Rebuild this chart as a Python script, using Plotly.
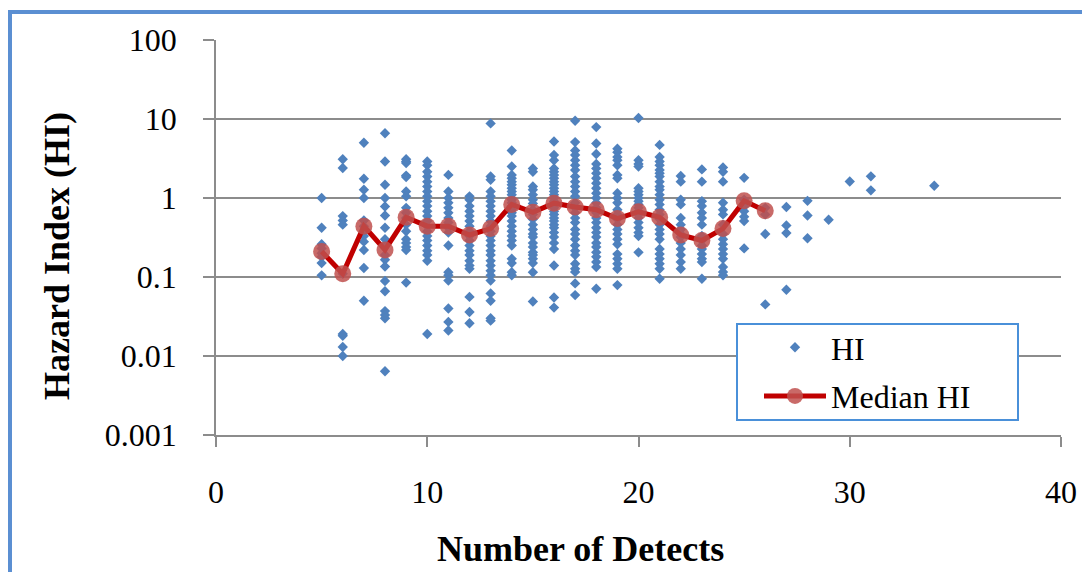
import plotly.graph_objects as go

# HI values per number of detects
hi_5 = [1.0, 0.42, 0.26, 0.23, 0.20, 0.18, 0.15, 0.105]
hi_6 = [3.1, 2.4, 0.59, 0.52, 0.46, 0.11, 0.019, 0.018, 0.013, 0.010]
hi_7 = [5.0, 1.75, 1.27, 1.0, 0.52, 0.44, 0.38, 0.33, 0.28, 0.22, 0.13, 0.05]
hi_8 = [6.6, 2.9, 1.47, 1.0, 0.78, 0.6, 0.42, 0.30, 0.25, 0.19, 0.165, 0.136, 0.089, 0.066, 0.037, 0.033, 0.030, 0.0064]
hi_9 = [3.1, 2.9, 2.77, 1.92, 1.84, 1.21, 1.05, 0.75, 0.65, 0.56, 0.46, 0.38, 0.30, 0.27, 0.24, 0.22, 0.085]
hi_10 = [2.9, 2.6, 2.15, 1.87, 1.61, 1.4, 1.21, 1.05, 0.91, 0.79, 0.68, 0.59, 0.51, 0.44, 0.38, 0.33, 0.29, 0.25, 0.215, 0.19, 0.16, 0.019]
hi_11 = [1.96, 1.21, 1.0, 0.87, 0.75, 0.65, 0.56, 0.49, 0.42, 0.365, 0.25, 0.115, 0.105, 0.09, 0.04, 0.027, 0.021]
hi_12 = [1.05, 0.95, 0.79, 0.68, 0.59, 0.51, 0.44, 0.38, 0.33, 0.29, 0.25, 0.215, 0.19, 0.16, 0.14, 0.127, 0.056, 0.036, 0.026]
hi_13 = [8.8, 1.87, 1.7, 1.21, 1.05, 0.91, 0.79, 0.68, 0.59, 0.51, 0.44, 0.38, 0.33, 0.29, 0.25, 0.215, 0.19, 0.16, 0.14, 0.12, 0.105, 0.09, 0.062, 0.05, 0.030, 0.028]
hi_14 = [4.0, 2.5, 1.96, 1.78, 1.61, 1.47, 1.33, 1.21, 1.10, 0.95, 0.87, 0.79, 0.71, 0.65, 0.59, 0.51, 0.44, 0.38, 0.33, 0.29, 0.25, 0.17, 0.15, 0.115, 0.105]
hi_15 = [2.37, 2.15, 1.4, 1.27, 1.1, 0.95, 0.85, 0.71, 0.62, 0.54, 0.46, 0.40, 0.35, 0.32, 0.27, 0.24, 0.205, 0.19, 0.17, 0.15, 0.115, 0.049]
hi_16 = [5.2, 3.5, 3.0, 2.37, 2.15, 1.96, 1.78, 1.61, 1.47, 1.33, 1.21, 1.10, 1.0, 0.91, 0.83, 0.75, 0.68, 0.62, 0.56, 0.51, 0.46, 0.42, 0.365, 0.32, 0.27, 0.226, 0.14, 0.055, 0.041]
hi_17 = [9.5, 5.1, 4.0, 3.5, 3.0, 2.6, 2.26, 1.87, 1.61, 1.4, 1.21, 1.05, 0.87, 0.75, 0.65, 0.56, 0.49, 0.40, 0.35, 0.30, 0.25, 0.215, 0.19, 0.147, 0.127, 0.116, 0.083, 0.059]
hi_18 = [7.9, 4.9, 3.6, 2.7, 2.37, 2.05, 1.78, 1.54, 1.33, 1.15, 1.0, 0.87, 0.75, 0.65, 0.56, 0.49, 0.42, 0.365, 0.32, 0.27, 0.24, 0.205, 0.18, 0.155, 0.134, 0.071]
hi_19 = [4.2, 3.8, 3.3, 3.0, 2.6, 1.96, 1.78, 1.15, 1.0, 0.87, 0.71, 0.62, 0.54, 0.46, 0.40, 0.35, 0.30, 0.26, 0.195, 0.17, 0.147, 0.127, 0.079]
hi_20 = [10.3, 3.0, 2.7, 2.5, 1.33, 1.21, 1.10, 1.0, 0.91, 0.83, 0.75, 0.68, 0.62, 0.56, 0.49, 0.42, 0.365, 0.33, 0.205]
hi_21 = [4.7, 3.3, 2.9, 2.6, 2.26, 2.05, 1.87, 1.61, 1.4, 1.27, 1.1, 0.95, 0.83, 0.71, 0.62, 0.54, 0.46, 0.40, 0.35, 0.30, 0.226, 0.195, 0.17, 0.147, 0.127, 0.095]
hi_22 = [1.9, 1.61, 0.95, 0.83, 0.56, 0.46, 0.40, 0.35, 0.32, 0.27, 0.226, 0.19, 0.155, 0.127]
hi_23 = [2.3, 1.61, 0.91, 0.79, 0.65, 0.56, 0.46, 0.33, 0.29, 0.25, 0.226, 0.195, 0.17, 0.155, 0.095]
hi_24 = [2.44, 2.15, 1.61, 0.87, 0.71, 0.62, 0.46, 0.35, 0.30, 0.26, 0.226, 0.195, 0.17, 0.134, 0.116, 0.105]
hi_25 = [1.8, 0.95, 0.78, 0.68, 0.58, 0.51, 0.23]
hi_26 = [0.75, 0.62, 0.35, 0.045]
hi_27 = [0.77, 0.45, 0.36, 0.069]
hi_28 = [0.92, 0.6, 0.31]
hi_29 = [0.53]
hi_30 = [1.62]
hi_31 = [1.88, 1.25]
hi_34 = [1.43]

hi_columns = {
    5: hi_5, 6: hi_6, 7: hi_7, 8: hi_8, 9: hi_9, 10: hi_10, 11: hi_11, 12: hi_12,
    13: hi_13, 14: hi_14, 15: hi_15, 16: hi_16, 17: hi_17, 18: hi_18, 19: hi_19,
    20: hi_20, 21: hi_21, 22: hi_22, 23: hi_23, 24: hi_24, 25: hi_25, 26: hi_26,
    27: hi_27, 28: hi_28, 29: hi_29, 30: hi_30, 31: hi_31, 34: hi_34,
}

median_detects = [5, 6, 7, 8, 9, 10, 11, 12, 13, 14, 15, 16, 17, 18, 19, 20, 21, 22, 23, 24, 25, 26]
median_hi = [0.21, 0.11, 0.44, 0.22, 0.57, 0.44, 0.44, 0.34, 0.41, 0.83, 0.66, 0.86, 0.77, 0.71, 0.55, 0.67, 0.57, 0.34, 0.29, 0.41, 0.92, 0.69]

x_ticks = [0, 10, 20, 30, 40]
y_ticks = [0.001, 0.01, 0.1, 1, 10, 100]
y_tick_text = ["0.001", "0.01", "0.1", "1", "10", "100"]

scatter_x, scatter_y = [], []
for d, vals in hi_columns.items():
    scatter_x += [d] * len(vals)
    scatter_y += vals

FONT = "Liberation Serif, Times New Roman, serif"
GRID = "#8c8c8c"
BLUE_FRAME = "#5B8FD2"

fig = go.Figure()
fig.add_trace(go.Scatter(
    x=scatter_x, y=scatter_y, mode="markers", name="HI", legendgroup="a",
    marker=dict(symbol="diamond", size=8, color="#4F81BD"),
))
fig.add_trace(go.Scatter(
    x=median_detects, y=median_hi, mode="lines+markers", name="Median HI", legendgroup="b",
    line=dict(color="#C00000", width=5),
    marker=dict(symbol="circle", size=17, color="rgba(192,80,77,0.85)"),
))

# the page body has an 8px margin; the figure is sized so it fits the window
OFF = 8
W, H = 1074, 564
PL, PR, PT, PB = 216, 1061, 40, 435          # plot area in page pixels
L, R, T, B = PL - OFF, W + OFF - PR, PT - OFF, H + OFF - PB
pw, ph = PR - PL, PB - PT

def px_x(p):
    return (p - PL) / pw

def px_y(p):
    return (PB - p) / ph

fig.update_layout(
    width=W, height=H,
    margin=dict(l=L, r=R, t=T, b=B, autoexpand=False),
    paper_bgcolor="white", plot_bgcolor="white",
    font=dict(family=FONT, size=32, color="black"),
    showlegend=True,
    legend=dict(
        x=px_x(759), y=px_y(320), xanchor="left", yanchor="top",
        bgcolor="rgba(0,0,0,0)", borderwidth=0,
        font=dict(family=FONT, size=32, color="black"),
        tracegroupgap=4, itemwidth=62,
    ),
    xaxis=dict(
        range=[0, 40], tickvals=x_ticks, ticks="outside", ticklen=10, tickwidth=1.5,
        tickcolor=GRID, showline=True, linecolor=GRID, linewidth=1.5,
        showgrid=False, zeroline=False, ticklabelstandoff=18,
        tickfont=dict(family=FONT, size=32),
    ),
    yaxis=dict(
        type="log", range=[-3, 2], tickvals=y_ticks, ticktext=y_tick_text,
        ticks="outside", ticklen=11, tickwidth=1.5, tickcolor=GRID,
        showline=True, linecolor=GRID, linewidth=1.5,
        showgrid=True, gridcolor=GRID, gridwidth=1.5, zeroline=False,
        ticklabelstandoff=20, tickfont=dict(family=FONT, size=32),
    ),
)

# axis titles
fig.add_annotation(
    text="<b>Number of Detects</b>", xref="paper", yref="paper",
    x=px_x(580), y=px_y(549), xanchor="center", yanchor="middle",
    showarrow=False, font=dict(family=FONT, size=36, color="black"),
)
fig.add_annotation(
    text="<b>Hazard Index (HI)</b>", xref="paper", yref="paper",
    x=px_x(57), y=px_y(256), xanchor="center", yanchor="middle", textangle=-90,
    showarrow=False, font=dict(family=FONT, size=36, color="black"),
)

# outer chart frame (left and top edges visible)
fig.add_shape(
    type="rect", xref="paper", yref="paper",
    x0=px_x(10), x1=px_x(1110), y0=px_y(600), y1=px_y(12),
    line=dict(color=BLUE_FRAME, width=4), fillcolor="rgba(0,0,0,0)", layer="below",
)
# legend box (white, blue border) behind the legend entries
fig.add_shape(
    type="rect", xref="paper", yref="paper",
    x0=px_x(737), x1=px_x(1018), y0=px_y(420), y1=px_y(324),
    line=dict(color="#4A90D9", width=2), fillcolor="white", layer="above",
)

fig.write_html("out.html")
